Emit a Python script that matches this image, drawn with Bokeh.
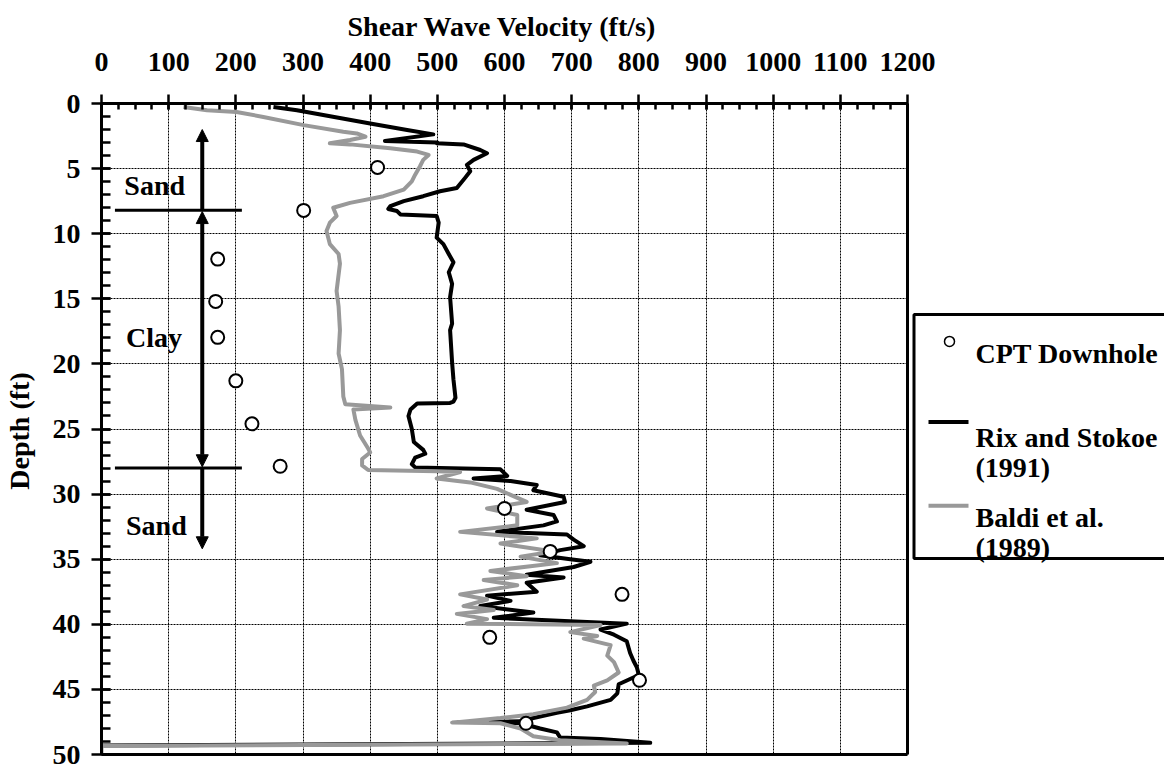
from bokeh.plotting import figure
from bokeh.models import Range1d, SingleIntervalTicker, Arrow, NormalHead
from bokeh.core.properties import value
from bokeh.embed import file_html
from bokeh.resources import INLINE

# ---------------- data ----------------
# Rix and Stokoe (1991): depth (ft) / shear wave velocity (ft/s)
rix_depth = [0.27, 0.52, 1.54, 2.04, 2.37, 2.88, 3.0, 3.06, 3.14, 3.57, 3.82, 4.33, 4.71, 5.2, 5.73,
             6.49, 6.74, 7.12, 7.5, 7.88, 8.1, 8.26, 8.52, 8.64, 9.15, 10.3, 10.8, 11.56, 12.2, 12.96,
             13.85, 14.87, 16.9, 17.4, 19.9, 21.2, 22.6, 22.9, 23.0, 23.04, 23.5, 24.0, 25.0, 26.0,
             26.6, 26.9, 27.2, 27.7, 27.95, 28.1, 28.6, 28.8, 29.0, 29.3, 29.7, 30.2, 30.6, 31.2,
             31.6, 32.1, 32.4, 32.9, 33.1, 33.5, 34.0, 34.3, 34.7, 35.0, 35.2, 35.6, 36.2, 36.4,
             36.8, 37.5, 37.8, 38.2, 38.6, 39.1, 39.5, 39.95, 40.4, 40.8, 41.3, 42.2, 42.8, 43.3,
             43.9, 44.2, 44.6, 45.3, 45.8, 46.3, 46.6, 46.8, 47.2, 47.45, 47.5, 47.6, 48.0, 48.3,
             48.7, 48.8, 49.1, 49.3]
rix_vs = [256, 291, 400, 455, 494, 422, 500, 499, 539, 564, 574, 554, 544, 549, 541,
          529, 504, 479, 450, 430, 427, 440, 445, 499, 502, 499, 509, 517, 524, 517,
          522, 519, 522, 519, 522, 524, 527, 524, 519, 470, 460, 457, 462, 465,
          479, 482, 467, 462, 467, 594, 604, 554, 609, 648, 643, 688, 690, 633,
          673, 678, 658, 589, 693, 703, 718, 683, 653, 698, 728, 703, 633, 688,
          633, 648, 574, 609, 564, 643, 584, 782, 743, 763, 782, 787, 792, 797,
          800, 787, 770, 768, 758, 723, 698, 678, 643, 624, 579, 624, 653, 678,
          683, 743, 817, 0]

# Baldi et al. (1989)
baldi_depth = [0.27, 0.52, 0.65, 1.03, 1.66, 2.17, 2.3, 2.55, 2.8, 3.06, 3.14, 3.44, 3.69, 3.95, 4.33,
               4.84, 5.47, 5.98, 6.61, 7.12, 7.63, 8.01, 8.64, 9.15, 9.79, 10.8, 11.56, 12.3, 14.4,
               15.6, 17.4, 19.2, 20.4, 22.5, 23.1, 23.35, 23.5, 24.3, 25.5, 26.5, 26.8, 27.3, 27.8,
               28.15, 28.25, 28.3, 28.8, 29.1, 29.6, 30.6, 31.1, 31.6, 32.4, 32.9, 33.4, 33.8, 34.4,
               34.8, 35.3, 35.9, 36.3, 36.6, 37.0, 37.7, 38.1, 38.6, 38.9, 39.2, 39.6, 39.95, 40.05,
               40.6, 40.9, 41.1, 41.6, 42.4, 42.9, 43.7, 44.3, 44.7, 45.2, 45.8, 46.4, 46.9, 47.2,
               47.55, 47.6, 48.0, 48.6, 48.9, 49.15, 49.35, 50.0]
baldi_vs = [122, 157, 201, 241, 301, 360, 380, 393, 370, 340, 370, 430, 470, 487, 479,
            474, 467, 462, 450, 420, 370, 345, 350, 340, 335, 340, 353, 355, 350,
            353, 355, 353, 358, 360, 363, 430, 375, 378, 385, 397, 400, 388, 388,
            397, 499, 534, 499, 549, 589, 633, 574, 619, 619, 534, 648, 594, 673,
            624, 678, 579, 633, 569, 619, 534, 574, 539, 584, 529, 574, 544, 743,
            698, 738, 718, 758, 753, 763, 770, 753, 733, 735, 723, 693, 643, 594,
            522, 594, 624, 643, 683, 782, 0, 0]

# CPT Downhole
cpt_depth = [4.91, 8.21, 11.95, 15.2, 17.96, 21.3, 24.6, 27.86, 31.1, 34.4, 37.7, 41.0, 44.3, 47.6]
cpt_vs = [411, 301, 173, 170, 173, 200, 224, 266, 600, 668, 775, 578, 801, 632]

layer_names = ["Sand", "Clay", "Sand"]
layer_label_vs = [34, 36.5, 36.5]
layer_label_depth = [6.31, 18.0, 32.38]
layer_boundaries = [8.2, 28.0]

legend_labels = ["CPT Downhole", "Rix and Stokoe", "(1991)", "Baldi et al.", "(1989)"]

X_MAX, Y_MAX = 1200, 50

FONT = "Liberation Serif"
FS = "28px"
GREY = "#999999"

# ---------------- geometry (pixels) ----------------
W, H = 1164, 771
L, T = 101, 100             # frame left / top
X_PIX = 806                 # pixels spanned by 0..1200 ft/s
Y_PIX = 654                 # pixels spanned by 0..50 ft
BOTTOM_PAD = 4              # frame continues a little below 50 ft
SX = X_PIX / X_MAX
SY = Y_PIX / Y_MAX
x_end = (W - L) / SX        # frame runs to the right edge (legend lives there)
y_end = (Y_PIX + BOTTOM_PAD) / SY


def xd(px):
    return (px - L) / SX


def yd(py):
    return (py - T) / SY


p = figure(width=W, height=H, x_range=Range1d(0, x_end), y_range=Range1d(y_end, 0),
           x_axis_location="above", output_backend="svg", toolbar_location=None,
           min_border_left=L, min_border_top=T, min_border_right=0,
           min_border_bottom=H - T - Y_PIX - BOTTOM_PAD)

xt = SingleIntervalTicker(interval=100, num_minor_ticks=4)
yt = SingleIntervalTicker(interval=5, num_minor_ticks=5)
p.xaxis.ticker = xt
p.yaxis.ticker = yt
p.xaxis.bounds = (0, X_MAX)
p.yaxis.bounds = (0, Y_MAX)
p.xgrid.ticker = xt
p.ygrid.ticker = yt
p.xgrid.bounds = (0, X_MAX)
p.ygrid.bounds = (0, Y_MAX)
p.xgrid.cross_bounds = (0, Y_MAX)
p.ygrid.cross_bounds = (0, X_MAX)

for g in (p.xgrid, p.ygrid):
    g.grid_line_color = "black"
    g.grid_line_width = 1
    g.grid_line_dash = "2 1"
    g.grid_line_alpha = 1.0

p.outline_line_color = None

# title (left-aligned over the plotting area so it is centred on 0..1200)
p.title.text = "Shear Wave Velocity (ft/s)"
p.title.align = "left"
p.title.offset = 246
p.title.text_font = FONT
p.title.text_font_style = "bold"
p.title.text_font_size = FS
p.title.text_color = "black"
p.title.standoff = 16

p.yaxis.axis_label = "Depth (ft)"
for ax in (p.xaxis, p.yaxis):
    ax.axis_label_text_font = FONT
    ax.axis_label_text_font_style = "bold"
    ax.axis_label_text_font_size = FS
    ax.axis_label_text_color = "black"
    ax.major_label_text_font = FONT
    ax.major_label_text_font_style = "bold"
    ax.major_label_text_font_size = FS
    ax.major_label_text_color = "black"
    ax.axis_line_width = 3
    ax.axis_line_color = "black"
    ax.major_tick_line_width = 2.5
    ax.minor_tick_line_width = 2.5
    ax.major_tick_line_color = "black"
    ax.minor_tick_line_color = "black"

p.xaxis.major_tick_out = 9
p.xaxis.major_tick_in = 6
p.xaxis.minor_tick_out = 0
p.xaxis.minor_tick_in = 6
p.xaxis.major_label_standoff = 24

p.yaxis.major_tick_out = 10
p.yaxis.major_tick_in = 9
p.yaxis.minor_tick_out = 0
p.yaxis.minor_tick_in = 9
p.yaxis.major_label_standoff = 11
p.yaxis.axis_label_standoff = 15

# right and bottom edges of the plotting box
p.line([X_MAX, X_MAX], [0, Y_MAX], line_color="black", line_width=3)
p.line([0, X_MAX], [Y_MAX, Y_MAX], line_color="black", line_width=3)

# profiles
p.line(rix_vs, rix_depth, line_color="black", line_width=4, line_join="round")
p.line(baldi_vs, baldi_depth, line_color=GREY, line_width=4, line_join="round")
p.scatter(cpt_vs, cpt_depth, marker="circle", size=13, fill_color="white",
          line_color="black", line_width=2)

# layer boundaries
for d in layer_boundaries:
    p.line([20, 209], [d, d], line_color="black", line_width=3)


def head():
    return NormalHead(size=12, fill_color="black", line_color="black", line_width=1)


p.add_layout(Arrow(x_start=150, y_start=layer_boundaries[0], x_end=150, y_end=2.0,
                   end=head(), line_width=4, line_color="black"))
p.add_layout(Arrow(x_start=150, y_start=layer_boundaries[0] + 0.1, x_end=150,
                   y_end=layer_boundaries[1] - 0.1, start=head(), end=head(),
                   line_width=4, line_color="black"))
p.add_layout(Arrow(x_start=150, y_start=layer_boundaries[1], x_end=150, y_end=34.2,
                   end=head(), line_width=4, line_color="black"))

p.text(layer_label_vs, layer_label_depth, text=layer_names, text_font=value(FONT),
       text_font_style="bold", text_font_size=FS, text_baseline="alphabetic",
       text_align="left", text_color="black")

# ---------------- legend (right of the plotting box, open at the window edge) ----------------
box_top, box_bottom, box_left, box_right = 312, 557, 913.5, 1180
p.line([xd(box_right), xd(box_left), xd(box_left), xd(box_right)],
       [yd(box_top), yd(box_top), yd(box_bottom), yd(box_bottom)],
       line_color="black", line_width=3)
p.scatter([xd(949)], [yd(339)], marker="circle", size=10, fill_color="white",
          line_color="black", line_width=1.5)
p.line([xd(928), xd(968)], [yd(420), yd(420)], line_color="black", line_width=4)
p.line([xd(928), xd(968)], [yd(504), yd(504)], line_color=GREY, line_width=4)
p.text([xd(975)] * 5, [yd(v) for v in (351, 436, 466, 516, 546)], text=legend_labels,
       text_font=value(FONT), text_font_style="bold", text_font_size=FS,
       text_baseline="alphabetic", text_align="left", text_color="black")

open("out.html", "w").write(file_html(p, INLINE))
